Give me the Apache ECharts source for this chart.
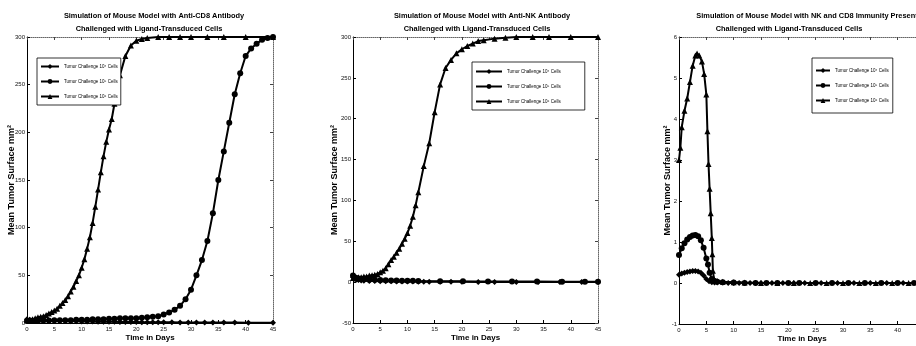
<!DOCTYPE html>
<html>
<head>
<meta charset="utf-8">
<script src="https://cdn.jsdelivr.net/npm/echarts/dist/echarts.min.js"></script>
<style>
  html, body { margin: 0; padding: 0; background: #fff; }
  #main { width: 916px; height: 346px; }
</style>
</head>
<body>
<div id="main"></div>
<script>
// legend names and marker per challenge size
const challengeNames = ['Tumor Challenge 10⁴ Cells', 'Tumor Challenge 10⁵ Cells', 'Tumor Challenge 10⁶ Cells'];
const challengeMarkers = ['diamond', 'circle', 'triangle'];

// tick labels
const dayTicks = [0, 5, 10, 15, 20, 25, 30, 35, 40, 45];
const cd8Ticks = [0, 50, 100, 150, 200, 250, 300];
const nkTicks = [-50, 0, 50, 100, 150, 200, 250, 300];
const bothTicks = [-1, 0, 1, 2, 3, 4, 5, 6];

// panel 1: anti-CD8 antibody  [day, mm²]
const cd8Small = [[0,4],[0.5,3.5],[1,3],[1.5,3],[2,2.5],[3,2.5],[4,2],[5,2],[6,2],[7,2],[8,1.8],[9,1.8],[10,1.6],[11,1.5],[12,1.5],[13,1.4],[14,1.3],[15,1.2],[16,1.2],[17,1.1],[18,1],[19,1],[20,1],[21,0.9],[22,0.9],[23,0.8],[24,0.8],[25,0.7],[26.5,0.7],[28,0.6],[29.5,0.6],[31,0.5],[32.5,0.5],[34,0.5],[36,0.4],[38,0.4],[40.5,0.3],[45,0.3]];
const cd8Mid = [[0,2],[0.5,2],[1,2],[1.5,2],[2,2],[3,2.5],[4,2.5],[5,3],[6,3],[7,3],[8,3],[9,3.5],[10,3.5],[11,3.5],[12,4],[13,4],[14,4],[15,4.5],[16,4.5],[17,5],[18,5],[19,5],[20,5],[21,5.5],[22,6],[23,6.5],[24,7],[25,9],[26,11],[27,14],[28,18],[29,25],[30,35],[31,50],[32,66],[33,86],[34,115],[35,150],[36,180],[37,210],[38,240],[39,262],[40,280],[41,288],[42,293],[43,297],[44,299],[45,300]];
const cd8High = [[0,3],[0.5,3.5],[1,4],[1.5,5],[2,6],[2.5,6.5],[3,7],[3.5,8.5],[4,10],[4.5,11.5],[5,13],[5.5,15],[6,18],[6.5,21],[7,24],[7.5,28],[8,33],[8.5,38],[9,44],[9.5,50],[10,58],[10.5,67],[11,78],[11.5,90],[12,105],[12.5,122],[13,140],[13.5,158],[14,175],[14.5,190],[15,203],[15.5,214],[16,230],[16.5,246],[17,260],[18,280],[19,291],[20,296],[21,298],[22,299],[24,300],[26,300],[28,300],[30,300],[33,300],[36,300],[40,300],[45,300]];

// panel 2: anti-NK antibody
const nkSmall = [[0,6],[0.3,4],[0.6,3],[1,2.5],[1.5,2],[2,1.8],[3,1.5],[4,1.3],[5,1.2],[6,1],[7,1],[8,0.9],[9,0.8],[10,0.8],[11,0.7],[12,0.6],[13,0.6],[14,0.5],[16,0.5],[18,0.4],[20,0.4],[23,0.3],[26,0.3],[30,0.2],[34,0.2],[38,0.1],[42,0.1],[45,0.1]];
const nkMid = [[0,8],[0.3,6],[0.6,5],[1,4.5],[1.5,4],[2,3.5],[3,3],[4,2.8],[5,2.5],[6,2.3],[7,2.1],[8,2],[9,1.8],[10,1.7],[11,1.6],[12,1.5],[16,1.2],[20.2,1],[24.8,0.9],[29.2,0.8],[33.8,0.7],[38.4,0.6],[42.6,0.5],[45,0.5]];
const nkHigh = [[0,5],[0.5,5],[1,6],[1.5,6],[2,7],[2.5,7],[3,8],[3.5,8.5],[4,9],[4.5,10],[5,12],[5.5,14],[6,17],[6.5,22],[7,27],[7.5,31],[8,36],[8.5,41],[9,47],[9.5,53],[10,60],[10.5,69],[11,80],[11.5,94],[12,110],[13,142],[14,170],[15,208],[16,242],[17,262],[18,272],[19,280],[20,285],[21,289],[22,292],[23,295],[24,296],[26,298],[28,299],[30,300],[33,300],[36,300],[40,300],[45,300]];

// panel 3: NK and CD8 immunity present
const bothSmall = [[0,0.2],[0.5,0.23],[1,0.25],[1.5,0.27],[2,0.28],[2.5,0.29],[3,0.29],[3.5,0.28],[4,0.25],[4.5,0.18],[5,0.1],[5.5,0.04],[6,0.02],[6.5,0.01],[7,0.01],[8,0.01],[9,0],[10,0],[11,0],[12,0],[13,0],[14,0],[15,0],[17,0],[19,0],[21,0],[23,0],[26,0],[29,0],[32,0],[35,0],[38,0],[41,0],[45,0]];
const bothMid = [[0,0.68],[0.5,0.85],[1,0.97],[1.5,1.06],[2,1.12],[2.5,1.16],[3,1.17],[3.5,1.14],[4,1.04],[4.5,0.86],[5,0.6],[5.3,0.45],[5.6,0.25],[6,0.1],[6.5,0.05],[7,0.03],[8,0.02],[10,0.01],[12,0],[14,0],[16,0],[18,0],[20,0],[22,0],[25,0],[28,0],[31,0],[34,0],[37,0],[40,0],[43,0],[45,0]];
const bothHigh = [[0,3],[0.25,3.3],[0.5,3.8],[1,4.2],[1.5,4.5],[2,4.9],[2.5,5.3],[3,5.55],[3.3,5.6],[3.7,5.55],[4.2,5.4],[4.6,5.1],[5,4.6],[5.2,3.7],[5.4,2.9],[5.6,2.3],[5.8,1.7],[6,1.1],[6.1,0.7],[6.2,0.3],[6.4,0.1],[7,0.05],[8,0.03],[10,0.02],[12,0.01],[15,0],[18,0],[21,0],[24,0],[27,0],[30,0],[33,0],[36,0],[39,0],[42,0],[45,0]];

const panelTitles = [
    ['Simulation of Mouse Model with Anti-CD8 Antibody', 'Challenged with Ligand-Transduced Cells'],
    ['Simulation of Mouse Model with Anti-NK Antibody', 'Challenged with Ligand-Transduced Cells'],
    ['Simulation of Mouse Model with NK and CD8 Immunity Present', 'Challenged with Ligand-Transduced Cells']
];

const FONT = '"Liberation Sans", Arial, sans-serif';

let panels = [
    { grid: { left: 27, right: 643, top: 37, bottom: 23 }, yTicks: cd8Ticks, data: [cd8Small, cd8Mid, cd8High],
      titleX: [149, 144], yNameGap: 11, legend: { left: 37, top: 58, itemWidth: 18, padding: [6, 3, 6, 3] } },
    { grid: { left: 353, right: 318, top: 37, bottom: 23 }, yTicks: nkTicks, data: [nkSmall, nkMid, nkHigh],
      titleX: [477, 472], yNameGap: 14, legend: { left: 472, top: 62, itemWidth: 26, padding: [7, 24, 6, 3] } },
    { grid: { left: 679, right: -9, top: 37, bottom: 22 }, yTicks: bothTicks, data: [bothSmall, bothMid, bothHigh],
      titleX: [802, 784], yNameGap: 7, legend: { left: 812, top: 58, itemWidth: 14, padding: [10, 4, 10, 3] } }
];

let grids = [], xAxes = [], yAxes = [], series = [], titles = [], legends = [];

panels.forEach((p, i) => {
    grids.push(Object.assign({ outerBoundsMode: 'none', containLabel: false }, p.grid));
    let yMin = p.yTicks[0], yMax = p.yTicks[p.yTicks.length - 1];
    let yStep = p.yTicks[1] - p.yTicks[0];

    // bottom / left axes carry labels, top / right make the box
    xAxes.push({
        type: 'value', gridIndex: i, min: dayTicks[0], max: dayTicks[dayTicks.length - 1], interval: 5,
        name: 'Time in Days', nameLocation: 'middle', nameGap: 11, nameMoveOverlap: false,
        nameTextStyle: { fontFamily: FONT, fontSize: 8, fontWeight: 'bold', color: '#000' },
        axisLine: { onZero: false, lineStyle: { color: '#000', width: 1 } },
        axisTick: { inside: true, length: 3, lineStyle: { color: '#000' } },
        axisLabel: { fontFamily: FONT, fontSize: 6, color: '#111', margin: 3 },
        splitLine: { show: false }
    });
    xAxes.push({
        type: 'value', gridIndex: i, position: 'top', min: 0, max: 45, interval: 5,
        axisLine: { onZero: false, lineStyle: { color: '#666', type: 'dotted', width: 1 } },
        axisTick: { inside: true, length: 3, lineStyle: { color: '#444' } },
        axisLabel: { show: false }, splitLine: { show: false }
    });
    yAxes.push({
        type: 'value', gridIndex: i, min: yMin, max: yMax, interval: yStep,
        name: 'Mean Tumor Surface mm²', nameLocation: 'middle', nameGap: p.yNameGap, nameMoveOverlap: false,
        nameTextStyle: { fontFamily: FONT, fontSize: 9, fontWeight: 'bold', color: '#000' },
        axisLine: { show: true, onZero: false, lineStyle: { color: '#000', width: 1 } },
        axisTick: { show: true, inside: true, length: 3, lineStyle: { color: '#000' } },
        axisLabel: { fontFamily: FONT, fontSize: 6, color: '#111', margin: 2 },
        splitLine: { show: false }
    });
    yAxes.push({
        type: 'value', gridIndex: i, position: 'right', min: yMin, max: yMax, interval: yStep,
        axisLine: { show: true, onZero: false, lineStyle: { color: '#666', type: 'dotted', width: 1 } },
        axisTick: { show: true, inside: true, length: 3, lineStyle: { color: '#444' } },
        axisLabel: { show: false }, splitLine: { show: false }
    });

    p.data.forEach((d, k) => {
        series.push({
            name: challengeNames[k], type: 'line', xAxisIndex: 2 * i, yAxisIndex: 2 * i,
            data: d, symbol: challengeMarkers[k], symbolSize: 6, showSymbol: true,
            color: '#000', lineStyle: { color: '#000', width: 2 }, itemStyle: { color: '#000' },
            animation: false
        });
    });

    titles.push({ text: panelTitles[i][0], left: p.titleX[0], top: 7, textAlign: 'center',
        textStyle: { fontFamily: FONT, fontSize: 7.4, fontWeight: 'bold', color: '#000' } });
    titles.push({ text: panelTitles[i][1], left: p.titleX[1], top: 20, textAlign: 'center',
        textStyle: { fontFamily: FONT, fontSize: 7.4, fontWeight: 'bold', color: '#000' } });

    legends.push(Object.assign({
        orient: 'vertical', itemHeight: 6, itemGap: 10, selectedMode: false,
        borderColor: '#000', borderWidth: 0.8, backgroundColor: '#fff',
        textStyle: { fontFamily: FONT, fontSize: 4.5, color: '#000' },
        data: challengeNames
    }, p.legend));
});

let chart = echarts.init(document.getElementById('main'));
chart.setOption({
    backgroundColor: '#fff',
    animation: false,
    title: titles,
    legend: legends,
    grid: grids,
    xAxis: xAxes,
    yAxis: yAxes,
    series: series
});
</script>
</body>
</html>
